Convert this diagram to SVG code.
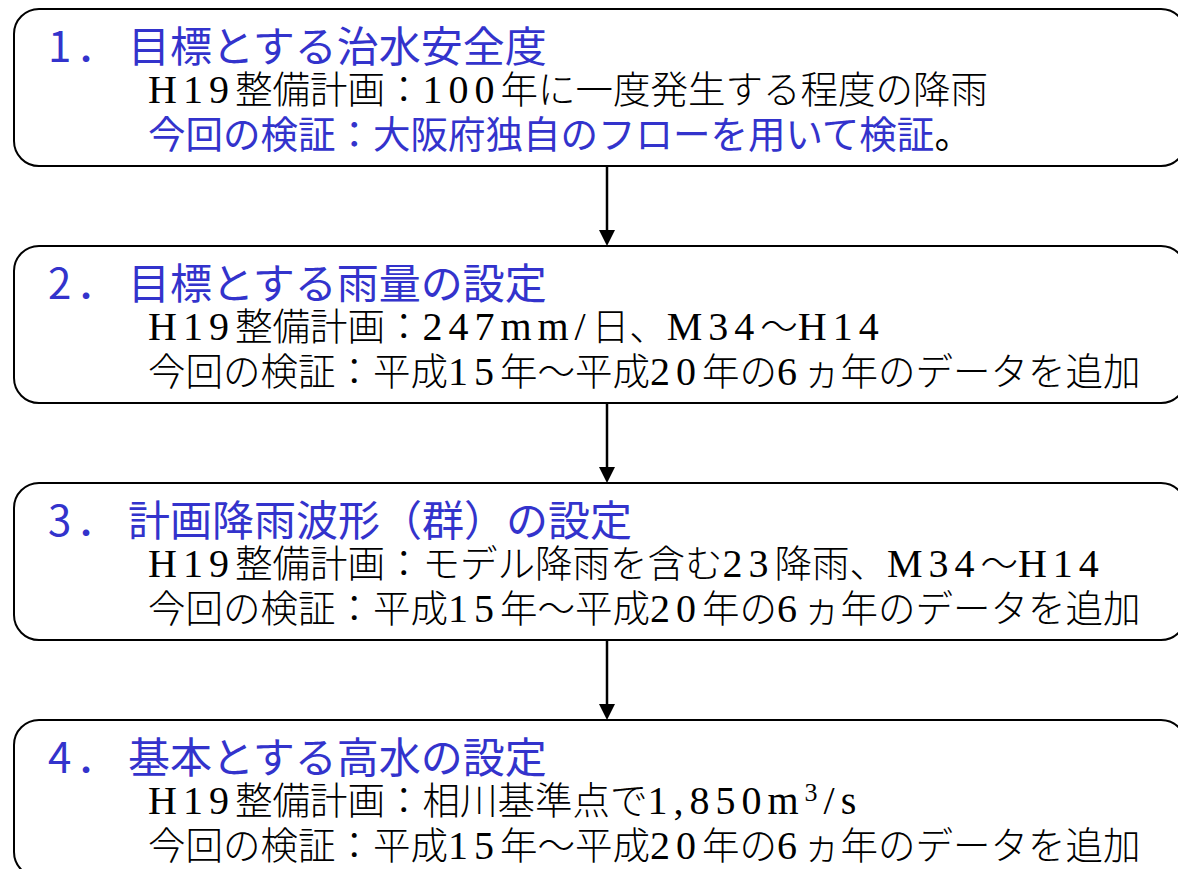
<svg xmlns="http://www.w3.org/2000/svg" width="1178" height="869" viewBox="0 0 1178 869">
<style>
.box{fill:#fff;stroke:#000;stroke-width:2}
.t{font-family:"Noto Sans CJK JP","Noto Sans CJK SC",sans-serif;font-size:42px;fill:#3333CC}
.l{font-family:"Noto Sans CJK JP","Noto Sans CJK SC",sans-serif;font-size:37.5px;fill:#000;font-weight:300}
.b{fill:#3333CC;font-weight:400}
.k{fill:#000}
.s{font-family:"Liberation Serif",serif;font-size:40px;letter-spacing:6px;font-weight:400}
.sup{font-size:26px}
.conn{stroke:#000;stroke-width:2.5;fill:none}
</style>
<defs>
<marker id="ah" markerUnits="userSpaceOnUse" markerWidth="16" markerHeight="16" refX="8" refY="8" orient="auto">
<path d="M0,0 L16,8 L0,16 Z" fill="#000"/>
</marker>
</defs>
<rect width="1178" height="869" fill="#fff"/>
<g id="connectors">
<line class="conn" x1="607" y1="166" x2="607" y2="238" marker-end="url(#ah)"/>
<line class="conn" x1="607" y1="403" x2="607" y2="475" marker-end="url(#ah)"/>
<line class="conn" x1="607" y1="640" x2="607" y2="712" marker-end="url(#ah)"/>
</g>
<g id="node1">
<rect class="box" x="14" y="9" width="1172" height="157" rx="25"/>
<text class="t" x="48" y="62">1<tspan x="76">．</tspan><tspan x="128">目標とする治水安全度</tspan></text>
<text class="l" x="148" y="103"><tspan class="s">H19</tspan>整備計画：<tspan class="s">100</tspan>年に一度発生する程度の降雨</text>
<text class="l b" x="148" y="148">今回の検証：大阪府独自のフローを用いて検証<tspan class="k">。</tspan></text>
</g>
<g id="node2">
<rect class="box" x="14" y="246" width="1172" height="157" rx="25"/>
<text class="t" x="48" y="299">2<tspan x="76">．</tspan><tspan x="128">目標とする雨量の設定</tspan></text>
<text class="l" x="148" y="340"><tspan class="s">H19</tspan>整備計画：<tspan class="s">247mm/</tspan>日、<tspan class="s">M34</tspan>〜<tspan class="s">H14</tspan></text>
<text class="l" x="148" y="385">今回の検証：平成<tspan class="s">15</tspan>年〜平成<tspan class="s">20</tspan>年の<tspan class="s">6</tspan>ヵ年のデータを追加</text>
</g>
<g id="node3">
<rect class="box" x="14" y="483" width="1172" height="157" rx="25"/>
<text class="t" x="48" y="536">3<tspan x="76">．</tspan><tspan x="128">計画降雨波形（群）の設定</tspan></text>
<text class="l" x="148" y="577"><tspan class="s">H19</tspan>整備計画：モデル降雨を含む<tspan class="s">23</tspan>降雨、<tspan class="s">M34</tspan>〜<tspan class="s">H14</tspan></text>
<text class="l" x="148" y="622">今回の検証：平成<tspan class="s">15</tspan>年〜平成<tspan class="s">20</tspan>年の<tspan class="s">6</tspan>ヵ年のデータを追加</text>
</g>
<g id="node4">
<rect class="box" x="14" y="720" width="1172" height="157" rx="25"/>
<text class="t" x="48" y="773">4<tspan x="76">．</tspan><tspan x="128">基本とする高水の設定</tspan></text>
<text class="l" x="148" y="814"><tspan class="s">H19</tspan>整備計画：相川基準点で<tspan class="s">1,850m<tspan class="sup" dy="-13">3</tspan><tspan dy="13">/s</tspan></tspan></text>
<text class="l" x="148" y="859">今回の検証：平成<tspan class="s">15</tspan>年〜平成<tspan class="s">20</tspan>年の<tspan class="s">6</tspan>ヵ年のデータを追加</text>
</g>
</svg>
